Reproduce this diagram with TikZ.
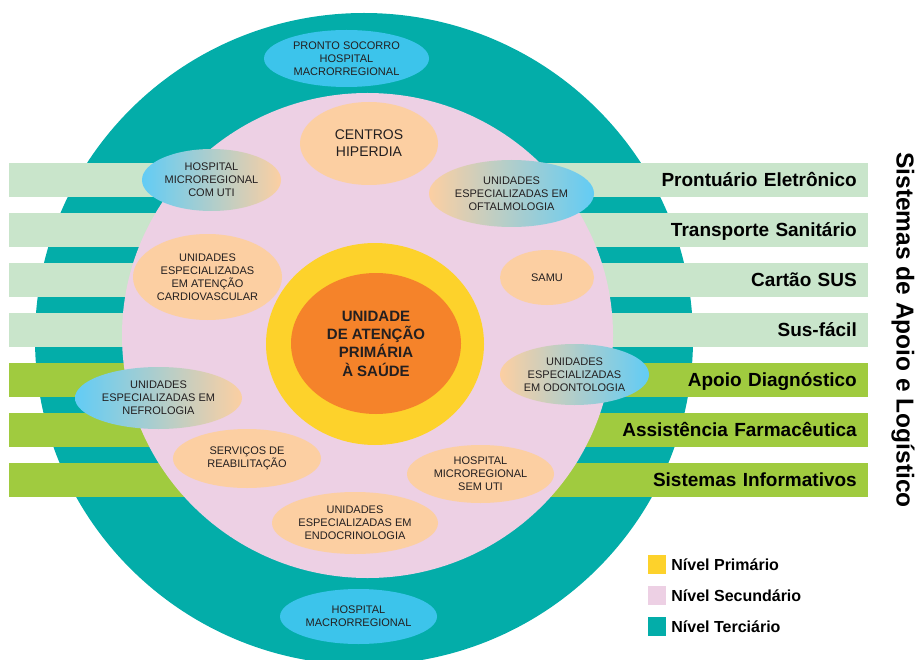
\documentclass[tikz,border=0pt]{standalone}
\usepackage{fontspec}
\setmainfont{Liberation Sans}
\usetikzlibrary{shapes.geometric,positioning}
\definecolor{terc}{HTML}{03ADA9}
\definecolor{secund}{HTML}{EDD0E4}
\definecolor{amarelo}{HTML}{FDD22B}
\definecolor{laranja}{HTML}{F5832A}
\definecolor{pessego}{HTML}{FCCFA2}
\definecolor{azul}{HTML}{3CC4EB}
\definecolor{azulclaro}{HTML}{62CCF5}
\definecolor{verdeclaro}{HTML}{C9E5CB}
\definecolor{verde}{HTML}{A0CB3F}
\definecolor{txtgray}{HTML}{231F20}
\tikzset{
  txtnode/.style = {align=center, inner sep=0pt, text=txtgray, font=\fontsize{11}{13}\selectfont},
  esp_p/.style = {txtnode, ellipse, fill=pessego},
  esp_a/.style = {txtnode, ellipse, fill=azul},
  esp_ap/.style = {txtnode, ellipse, left color=azulclaro, right color=pessego},
  esp_pa/.style = {txtnode, ellipse, left color=pessego, right color=azulclaro},
  nivel/.style = {ellipse, inner sep=0pt},
  barra/.style = {rectangle, anchor=east, minimum height=34pt, text width=837pt, inner xsep=11pt, inner ysep=0pt,
    text height=13.7pt, text depth=1pt, align=right, font=\fontsize{19}{22}\selectfont\bfseries},
  barra_c/.style = {barra, fill=verdeclaro},
  barra_e/.style = {barra, fill=verde},
  leg_q/.style = {minimum width=18pt, minimum height=19pt, inner sep=0pt},
  leg_t/.style = {inner sep=0pt, font=\fontsize{16}{18}\selectfont\bfseries}
}
\begin{document}
\begin{tikzpicture}[x=1pt, y=-1pt]
	\useasboundingbox (0,0) rectangle (917,660);
	\clip (0,0) rectangle (917,660);
	\node [nivel, fill=terc, minimum width=658pt, minimum height=652pt] (terciario) at (364,339) {};
	\node [barra_c] (prontuario) at (868,180) {Prontuário Eletrônico};
	\node [barra_c] (transporte) at (868,230) {Transporte Sanitário};
	\node [barra_c] (cartao) at (868,280) {Cartão SUS};
	\node [barra_c] (susfacil) at (868,330) {Sus-fácil};
	\node [barra_e] (diagnostico) at (868,380) {Apoio Diagnóstico};
	\node [barra_e] (farmacia) at (868,430) {Assistência Farmacêutica};
	\node [barra_e] (informativos) at (868,480) {Sistemas Informativos};
	\node [nivel, fill=secund, minimum width=491pt, minimum height=485pt] (secundario) at (367.5,335.5) {};
	\node [nivel, fill=amarelo, minimum width=218pt, minimum height=202pt] (primario) at (375,344) {};
	\node [nivel, fill=laranja, minimum width=170pt, minimum height=141pt, align=center, text=txtgray,
		font=\fontsize{15}{18.3}\selectfont\bfseries] (aps) at (376,343.5) {UNIDADE\\DE ATENÇÃO\\PRIMÁRIA\\À SAÚDE};

	\node [esp_a, minimum width=165pt, minimum height=57pt] (pronto) at (346.5,58.5) {PRONTO SOCORRO\\HOSPITAL\\MACRORREGIONAL};
	\node [esp_p, minimum width=138pt, minimum height=83pt, font=\fontsize{14}{17}\selectfont] (hiperdia) at (369,143.5) {CENTROS\\HIPERDIA};
	\node [esp_ap, minimum width=139pt, minimum height=62pt] (hmicro_uti) at (211.5,180) {HOSPITAL\\MICROREGIONAL\\COM UTI};
	\node [esp_pa, minimum width=165pt, minimum height=67pt] (oftalmo) at (511.5,193.5) {UNIDADES\\ESPECIALIZADAS EM\\OFTALMOLOGIA};
	\node [esp_p, minimum width=149pt, minimum height=86pt] (cardio) at (207.5,277) {UNIDADES\\ESPECIALIZADAS\\EM ATENÇÃO\\CARDIOVASCULAR};
	\node [esp_p, minimum width=94pt, minimum height=55pt] (samu) at (547,277.5) {SAMU};
	\node [esp_ap, minimum width=167pt, minimum height=62pt] (nefro) at (158.5,398) {UNIDADES\\ESPECIALIZADAS EM\\NEFROLOGIA};
	\node [esp_pa, minimum width=149pt, minimum height=61pt] (odonto) at (574.5,374.5) {UNIDADES\\ESPECIALIZADAS\\EM ODONTOLOGIA};
	\node [esp_p, minimum width=148pt, minimum height=59pt] (reab) at (247,458.5) {SERVIÇOS DE\\REABILITAÇÃO};
	\node [esp_p, minimum width=147pt, minimum height=58pt] (hmicro_sem) at (480.5,474) {HOSPITAL\\MICROREGIONAL\\SEM UTI};
	\node [esp_p, minimum width=166pt, minimum height=62pt] (endocr) at (355,523) {UNIDADES\\ESPECIALIZADAS EM\\ENDOCRINOLOGIA};
	\node [esp_a, minimum width=157pt, minimum height=55pt] (hmacro) at (358.5,616.5) {HOSPITAL\\MACRORREGIONAL};

	\node [rotate=-90, inner sep=0pt, font=\fontsize{24.5}{28}\selectfont\bfseries] (sistemas) at (903,330) {Sistemas de Apoio e Logístico};

	\node [leg_q, fill=amarelo] (leg_pri) at (657,564.5) {};
	\node [leg_t, right=5pt of leg_pri] {Nível Primário};
	\node [leg_q, fill=secund] (leg_sec) at (657,595.5) {};
	\node [leg_t, right=5pt of leg_sec] {Nível Secundário};
	\node [leg_q, fill=terc] (leg_ter) at (657,626.5) {};
	\node [leg_t, right=5pt of leg_ter] {Nível Terciário};
\end{tikzpicture}
\end{document}
